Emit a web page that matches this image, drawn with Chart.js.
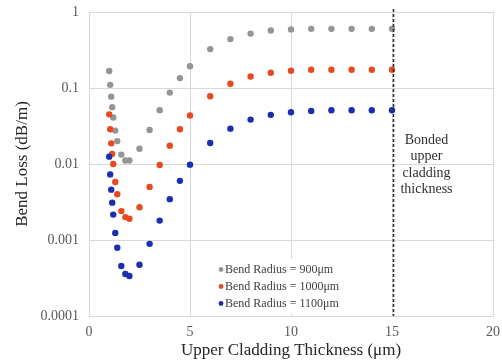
<!DOCTYPE html>
<html><head><meta charset="utf-8">
<script src="https://cdn.jsdelivr.net/npm/chart.js@4/dist/chart.umd.min.js"></script>
<style>html,body{margin:0;padding:0;background:#fff;overflow:hidden}</style>
</head><body>
<canvas id="c" width="502" height="363" style="display:block;width:502px;height:363px"></canvas>
<script>
const thickness = [1.0, 1.05, 1.1, 1.15, 1.2, 1.3, 1.4, 1.6, 1.8, 2.0, 2.5, 3, 3.5, 4, 4.5, 5, 6, 7, 8, 9, 10, 11, 12, 13, 14, 15];
const loss900  = [0.167, 0.110, 0.077, 0.056, 0.041, 0.0275, 0.020, 0.0133, 0.0111, 0.0111, 0.0159, 0.028, 0.051, 0.087, 0.135, 0.194, 0.325, 0.44, 0.52, 0.57, 0.59, 0.60, 0.60, 0.60, 0.60, 0.60];
const loss1000 = [0.045, 0.0286, 0.0187, 0.0136, 0.0100, 0.0058, 0.0040, 0.0024, 0.0020, 0.0019, 0.0027, 0.0050, 0.0097, 0.0174, 0.0286, 0.0434, 0.078, 0.114, 0.142, 0.159, 0.169, 0.174, 0.174, 0.174, 0.174, 0.174];
const loss1100 = [0.0125, 0.0073, 0.0046, 0.0031, 0.00216, 0.00124, 0.00079, 0.000455, 0.000357, 0.000336, 0.000473, 0.00089, 0.0018, 0.00345, 0.0060, 0.0098, 0.0189, 0.0292, 0.0384, 0.0443, 0.048, 0.050, 0.051, 0.051, 0.051, 0.051];
const seriesNames = ['Bend Radius = 900μm', 'Bend Radius = 1000μm', 'Bend Radius = 1100μm'];
const yTickValues = [0.0001, 0.001, 0.01, 0.1, 1];
const yTickLabels = ['0.0001', '0.001', '0.01', '0.1', '1'];
const xTickValues = [0, 5, 10, 15, 20];
const bondedThickness = 15;
const annotationLines = ['Bonded', 'upper', 'cladding', 'thickness'];

const colors = ['#959595', '#e8491f', '#1b2db0'];
const serif = "'Liberation Serif', 'Times New Roman', serif";

function pts(ys) { return thickness.map((x, i) => ({x: x, y: ys[i]})); }

const overlay = {
  id: 'overlay',
  afterDatasetsDraw(chart) {
    const ctx = chart.ctx, ca = chart.chartArea, xs = chart.scales.x;
    ctx.save();
    // legend
    const lx = ca.left + 125, ly = ca.top + 247;
    ctx.fillStyle = '#ffffff';
    ctx.fillRect(lx, ly, 132, 54);
    ctx.font = '12px ' + serif;
    ctx.textBaseline = 'middle';
    ctx.textAlign = 'left';
    chart.data.datasets.forEach((ds, i) => {
      const y = ly + 10.5 + i * 17;
      ctx.fillStyle = ds.backgroundColor;
      ctx.beginPath(); ctx.arc(lx + 7, y, 2.4, 0, Math.PI * 2); ctx.fill();
      ctx.fillStyle = '#404040';
      ctx.fillText(ds.label, lx + 11, y);
    });
    // dashed line at bonded thickness
    const bx = xs.getPixelForValue(bondedThickness) + 1.5;
    ctx.strokeStyle = '#303030';
    ctx.lineWidth = 1.6;
    ctx.setLineDash([3, 2]);
    ctx.beginPath(); ctx.moveTo(bx, ca.top - 3); ctx.lineTo(bx, ca.bottom); ctx.stroke();
    ctx.setLineDash([]);
    // annotation text
    ctx.font = '14px ' + serif;
    ctx.textAlign = 'center';
    ctx.fillStyle = '#303030';
    annotationLines.forEach((t, i) => ctx.fillText(t, bx + 33, ca.top + 128 + i * 16.5));
    ctx.restore();
  }
};

new Chart(document.getElementById('c'), {
  type: 'scatter',
  data: {
    datasets: [
      {label: seriesNames[0], data: pts(loss900), backgroundColor: colors[0], borderColor: colors[0], order: 3},
      {label: seriesNames[1], data: pts(loss1000), backgroundColor: colors[1], borderColor: colors[1], order: 2},
      {label: seriesNames[2], data: pts(loss1100), backgroundColor: colors[2], borderColor: colors[2], order: 1}
    ]
  },
  options: {
    responsive: false,
    animation: false,
    devicePixelRatio: 1,
    elements: {point: {radius: 3.2, borderWidth: 0, hoverRadius: 3.2}},
    layout: {padding: {top: 12, right: 9, left: 0, bottom: 0}},
    plugins: {legend: {display: false}, tooltip: {enabled: false}},
    scales: {
      x: {
        type: 'linear', min: 0, max: 20,
        afterBuildTicks: s => { s.ticks = xTickValues.map(v => ({value: v})); },
        afterFit: s => { s.height = 47; s.paddingLeft = 0; s.paddingRight = 0; },
        grid: {color: '#d9d9d9', drawTicks: false},
        border: {color: '#d9d9d9'},
        ticks: {padding: 8, font: {family: serif, size: 14}, color: '#595959', maxRotation: 0},
        title: {display: true, text: 'Upper Cladding Thickness (μm)', font: {family: serif, size: 17}, color: '#262626', padding: {top: 0, bottom: 2}}
      },
      y: {
        type: 'logarithmic', min: 0.0001, max: 1,
        afterBuildTicks: s => { s.ticks = yTickValues.map(v => ({value: v})); },
        afterFit: s => { s.width = 89; s.paddingTop = 0; s.paddingBottom = 0; },
        grid: {color: '#d9d9d9', drawTicks: false},
        border: {color: '#d9d9d9'},
        ticks: {padding: 10, font: {family: serif, size: 14}, color: '#595959',
          callback: (v, i) => yTickLabels[i]},
        title: {display: true, text: 'Bend Loss (dB/m)', font: {family: serif, size: 17}, color: '#262626', padding: {top: 12, bottom: 0}}
      }
    }
  },
  plugins: [overlay]
});
</script>
</body></html>
